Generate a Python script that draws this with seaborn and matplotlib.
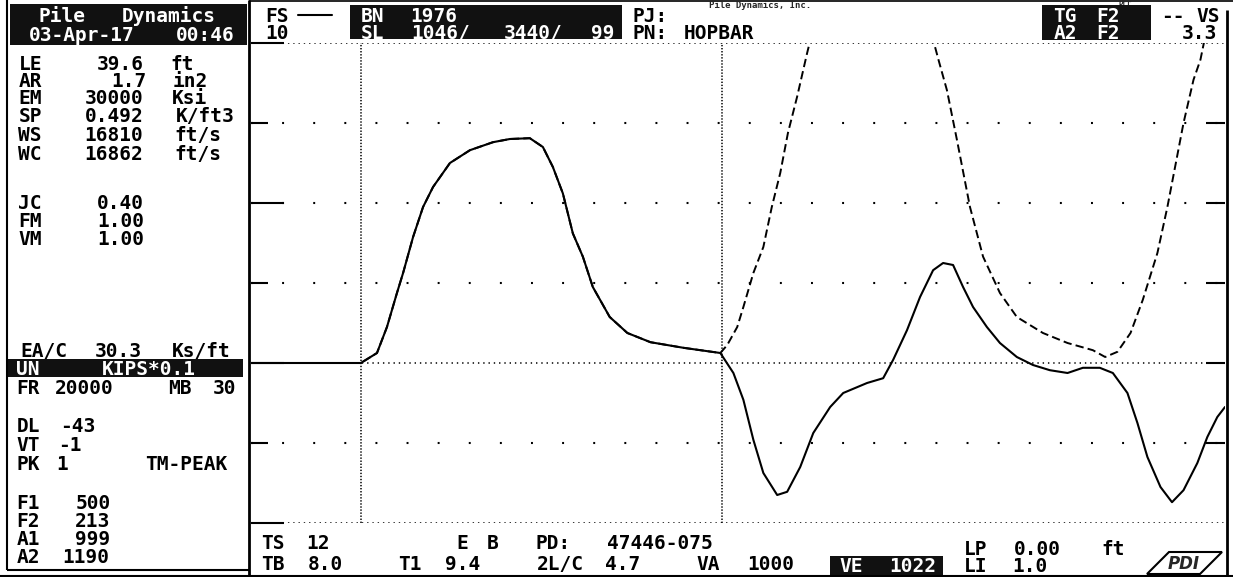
import matplotlib
matplotlib.use("Agg")
import matplotlib.pyplot as plt
import seaborn as sns
from matplotlib.patches import Rectangle, Polygon

# force trace (solid), time in ms, value in grid divisions
force_t = [0, 1.43, 1.64, 1.77, 1.90, 1.98, 2.11, 2.24, 2.37, 2.59, 2.85, 3.15,
           3.37, 3.63, 3.80, 3.93, 4.06, 4.19, 4.32, 4.45, 4.67, 4.90,
           5.20, 5.63, 6.11, 6.28, 6.41, 6.54, 6.67, 6.85, 6.98, 7.15,
           7.32, 7.54, 7.71, 8.02, 8.23, 8.36, 8.54, 8.71, 8.88, 9.01,
           9.14, 9.27, 9.40, 9.58, 9.75, 9.97, 10.18, 10.40, 10.63, 10.83,
           11.05, 11.22, 11.41, 11.54, 11.67, 11.84, 11.99, 12.14, 12.32, 12.45,
           12.58, 12.68]
force = [0, 0, 0.125, 0.45, 0.875, 1.125, 1.575, 1.95, 2.2, 2.5, 2.66, 2.76,
         2.8, 2.81, 2.7, 2.45, 2.12, 1.62, 1.33, 0.95, 0.575, 0.375,
         0.26, 0.19, 0.125, -0.125, -0.46, -0.96, -1.375, -1.65, -1.61, -1.3,
         -0.875, -0.55, -0.375, -0.25, -0.19, 0.04, 0.41, 0.825, 1.16, 1.25,
         1.225, 0.95, 0.7, 0.45, 0.25, 0.075, -0.025, -0.09, -0.125, -0.06,
         -0.06, -0.125, -0.375, -0.75, -1.175, -1.55, -1.74, -1.59, -1.25, -0.925,
         -0.675, -0.55]

# velocity trace (dashed) follows the force up to 2L/c, then splits off
split = 25
vel_tail_t = [6.20, 6.33, 6.41, 6.54, 6.67, 6.78, 6.89, 6.99, 7.11, 7.24,
              7.40, 7.67, 8.09, 8.52, 8.78, 8.95, 9.06, 9.19, 9.36, 9.53,
              9.75, 9.97, 10.31, 10.63, 10.96, 11.12, 11.28, 11.45, 11.61, 11.80,
              11.93, 12.14, 12.27, 12.36, 12.49, 12.68]
vel_tail = [0.225, 0.45, 0.7, 1.125, 1.45, 1.95, 2.375, 2.875, 3.33, 3.875,
            4.5, 5.2, 5.6, 5.2, 4.4, 3.79, 3.41, 2.79, 1.95, 1.33,
            0.875, 0.575, 0.375, 0.25, 0.16, 0.075, 0.14, 0.375, 0.79, 1.375,
            1.95, 3.0, 3.54, 3.79, 4.4, 5.2]
vel_t = force_t[:split] + vel_tail_t
vel = force[:split] + vel_tail

t_marks = [1.43, 6.13]          # impact and 2L/c markers
y_lo, y_hi = -2, 4
t_end = 12.68

params_top = [("LE", "39.6", "ft"), ("AR", "1.7", "in2"), ("EM", "30000", "Ksi"),
              ("SP", "0.492", "K/ft3"), ("WS", "16810", "ft/s"), ("WC", "16862", "ft/s")]
params_mid = [("JC", "0.40"), ("FM", "1.00"), ("VM", "1.00")]
filters = [("F1", "500"), ("F2", "213"), ("A1", "999"), ("A2", "1190")]

W, H = 1233, 577
sns.set_theme(style="white")
plt.rcParams["font.family"] = ["DejaVu Sans Mono", "DejaVu Sans"]
plt.rcParams["lines.scale_dashes"] = False

fig = plt.figure(figsize=(W / 100, H / 100), dpi=100)
fig.patch.set_facecolor("white")

# screen overlay in pixel coordinates
scr = fig.add_axes([0, 0, 1, 1])
scr.set_xlim(0, W)
scr.set_ylim(H, 0)
scr.axis("off")

PITCH = 15.2
INK = "#111111"


def put(x, y, s, color="black", size=14):
    scr.text(x + len(s) * PITCH / 2, y + 7, s, ha="center", va="baseline",
             color=color, fontsize=size, fontweight="bold", family="DejaVu Sans Mono")


def box(x0, y0, x1, y1):
    scr.add_patch(Rectangle((x0, y0), x1 - x0, y1 - y0, color=INK, lw=0))


def hline(y, x0, x1, lw=1.5):
    scr.plot([x0, x1], [y, y], color="black", lw=lw, solid_capstyle="butt")


def vline(x, y0, y1, lw=1.5):
    scr.plot([x, x], [y0, y1], color="black", lw=lw, solid_capstyle="butt")


# frame lines
vline(249, 0, H, 2)
vline(7, 0, 570, 1.5)
hline(570, 7, 249, 1.5)
hline(1, 249, W, 1.2)
vline(1227, 10, H, 2)
hline(576, 0, W, 1.5)

# left panel
box(10, 4, 247, 45)
put(32, 15, "Pile", "white")
put(108, 15, "Dynamics", "white")
put(13, 34, "03-Apr-17", "white")
put(167, 34, "00:46", "white")

rows_top = [63, 80, 97, 115, 134, 153]
val_x = [90, 106, 76, 76, 76, 76]
for (lab, val, unit), y, vx in zip(params_top, rows_top, val_x):
    put(15, y, lab)
    put(vx, y, val)
    put(167, y, unit)
for (lab, val), y in zip(params_mid, [202, 220, 238]):
    put(15, y, lab)
    put(90, y, val)

put(13, 350, "EA/C")
put(88, 350, "30.3")
put(163, 350, "Ks/ft")
box(8, 359, 243, 377)
put(13, 368, "UN", "white")
put(88, 368, "KIPS*0.1", "white")
put(13, 387, "FR")
put(46, 387, "20000")
put(165, 387, "MB")
put(209, 387, "30")
put(13, 425, "DL")
put(55, 425, "-43")
put(13, 444, "VT")
put(55, 444, "-1")
put(13, 463, "PK")
put(55, 463, "1")
put(133, 463, "TM-PEAK")
for (lab, val), y in zip(filters, [502, 520, 538, 556]):
    put(13, y, lab)
    put(55 if len(val) == 4 else 70, y, val)

# top bar
put(262, 15, "FS")
scr.plot([298, 332], [15, 15], color="black", lw=1.5)
put(262, 32, "10")
box(350, 5, 622, 39)
put(357, 15, "BN", "white")
put(403, 15, "1976", "white")
put(357, 32, "SL", "white")
put(403, 32, "1046/", "white")
put(495, 32, "3440/", "white")
put(588, 32, "99", "white")
put(627, 15, "PJ:")
put(627, 32, "PN:")
put(673, 32, "HOPBAR")
box(1042, 5, 1151, 40)
put(1050, 15, "TG", "white")
put(1093, 15, "F2", "white")
put(1050, 32, "A2", "white")
put(1093, 32, "F2", "white")
put(1158, 15, "--")
put(1193, 15, "VS")
put(1177, 32, "3.3")
scr.text(760, 8, "Pile Dynamics, Inc.", ha="center", va="baseline", fontsize=6.5,
         fontweight="bold", family="DejaVu Sans Mono")
scr.text(1125, 5, "DFF", ha="center", va="baseline", fontsize=5.5,
         fontweight="bold", family="DejaVu Sans Mono")

# bottom bar
put(258, 542, "TS")
put(303, 542, "12")
put(455, 542, "E")
put(485, 542, "B")
put(530, 542, "PD:")
put(591, 542, "47446-075")
put(960, 548, "LP")
put(1007, 548, "0.00")
put(1098, 548, "ft")
put(258, 563, "TB")
put(303, 563, "8.0")
put(395, 563, "T1")
put(440, 563, "9.4")
put(530, 563, "2L/C")
put(600, 563, "4.7")
put(693, 563, "VA")
put(740, 563, "1000")
box(830, 556, 943, 575)
put(836, 565, "VE", "white")
put(882, 565, "1022", "white")
put(960, 565, "LI")
put(1007, 565, "1.0")
scr.add_patch(Polygon([(1147, 574), (1200, 574), (1222, 552), (1169, 552)],
                      closed=True, fill=False, ec="black", lw=1.5))
scr.text(1184, 569, "PDI", ha="center", va="baseline", fontsize=12,
         fontweight="bold", style="italic", family="DejaVu Sans")

# trace axes
ax = fig.add_axes([251 / W, (H - 523) / H, (1225 - 251) / W, 480 / H])
ax.set_facecolor("none")
ax.set_xlim(0, t_end)
ax.set_ylim(y_lo, y_hi)
for s in ax.spines.values():
    s.set_visible(False)

for g in [3, 2, 1, -1]:
    ax.axhline(g, color="black", lw=1.5, linestyle=(0, (1.4, 21)), zorder=1)
for g in [4, 0, -2]:
    ax.axhline(g, color="black", lw=1.1, linestyle=(0, (1, 2.8)), zorder=1)
for tm in t_marks:
    ax.axvline(tm, color="black", lw=1.1, linestyle=(0, (1, 1.2)), zorder=1)

sns.lineplot(x=vel_t, y=vel, ax=ax, color="black", linewidth=1.4, zorder=2)
ax.get_lines()[-1].set_dashes([6, 3])
sns.lineplot(x=force_t, y=force, ax=ax, color="black", linewidth=1.5, zorder=3)

ax.set_xticks([])
ax.set_yticks([-2, 0, 2, 4])
ax.set_yticks([-1, 1, 3], minor=True)
ax.tick_params(axis="y", which="major", direction="in", length=24, width=1.5,
               left=True, labelleft=False, color="black")
ax.tick_params(axis="y", which="minor", direction="in", length=12, width=1.5,
               left=True, labelleft=False, color="black")
ax.set_xlabel("")
ax.set_ylabel("")

ax2 = ax.twinx()
ax2.set_facecolor("none")
ax2.set_ylim(y_lo, y_hi)
for s in ax2.spines.values():
    s.set_visible(False)
ax2.set_yticks([-1, 0, 1, 2, 3])
ax2.tick_params(axis="y", direction="in", length=14, width=1.5, right=True,
                labelright=False, left=False, color="black")
ax2.set_xticks([])

fig.savefig("out.png", dpi=100)
